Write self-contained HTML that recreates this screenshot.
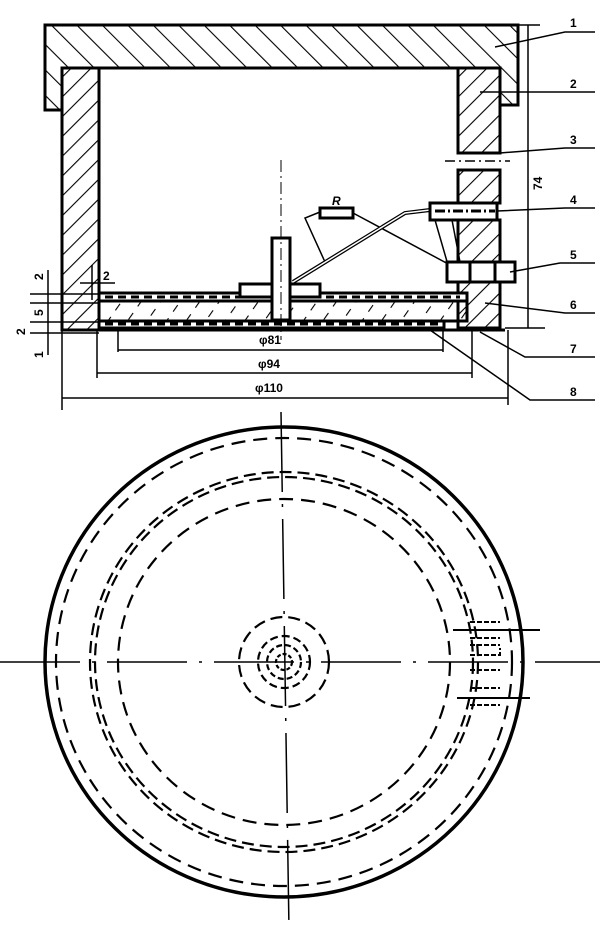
<!DOCTYPE html>
<html><head><meta charset="utf-8"><style>
html,body{margin:0;padding:0;background:#fff;width:600px;height:934px;overflow:hidden}
svg{display:block}
text{font-family:"Liberation Sans",sans-serif;font-weight:bold;fill:#000}
</style></head><body>
<svg width="600" height="934" viewBox="0 0 600 934" xmlns="http://www.w3.org/2000/svg">
<defs>
<pattern id="h1" patternUnits="userSpaceOnUse" width="18" height="18" patternTransform="rotate(-45)">
<line x1="0" y1="0" x2="0" y2="18" stroke="#000" stroke-width="2.2"/></pattern>
<pattern id="h2" patternUnits="userSpaceOnUse" width="14" height="14" patternTransform="rotate(45)">
<line x1="0" y1="0" x2="0" y2="14" stroke="#000" stroke-width="2.2"/></pattern>
<pattern id="h3" patternUnits="userSpaceOnUse" width="16" height="16" patternTransform="rotate(35)">
<line x1="0" y1="4" x2="0" y2="12" stroke="#000" stroke-width="2.2"/></pattern>
</defs>
<g stroke="#000" fill="none" stroke-width="3">
<path d="M45 25 H518 V105 H500 V68 H62 V110 H45 Z" fill="url(#h1)"/>
<rect x="62" y="68" width="37" height="262" fill="url(#h2)"/>
<rect x="458" y="68" width="42" height="85" fill="url(#h2)"/>
<rect x="458" y="170" width="42" height="33" fill="url(#h2)"/>
<rect x="458" y="220" width="42" height="108" fill="url(#h2)"/>
<rect x="99" y="293" width="368" height="8" fill="#fff"/>
<line x1="105" y1="297" x2="460" y2="297" stroke-dasharray="8 5" stroke-width="3"/>
<rect x="99" y="301" width="368" height="20" fill="url(#h3)"/>
<rect x="99" y="321" width="345" height="7" fill="#fff"/>
<line x1="105" y1="324" x2="440" y2="324" stroke-dasharray="8 5" stroke-width="3"/>
<line x1="62" y1="330" x2="505" y2="330"/>
<rect x="240" y="284" width="80" height="13" fill="#fff"/>
<rect x="272" y="238" width="18" height="82" fill="#fff"/>
<line x1="281" y1="160" x2="281" y2="340" stroke-width="1" stroke-dasharray="12 4 2 4"/>
<rect x="320" y="208" width="33" height="10" fill="#fff"/>
<polyline points="320,212 305,218 325,262" stroke-width="1.5"/>
<line x1="353" y1="213" x2="452" y2="266" stroke-width="1.5"/>
<polyline points="293,282 405,213 430,210" stroke-width="4"/>
<polyline points="293,282 405,213 430,210" stroke-width="1.5" stroke="#fff"/>
<rect x="430" y="203" width="67" height="17" fill="#fff"/>
<line x1="435" y1="211" x2="495" y2="211" stroke-dasharray="10 3 2 3"/>
<polyline points="435,220 448,265" stroke-width="1.5"/><polyline points="452,220 460,262" stroke-width="1.5"/>
<rect x="447" y="262" width="68" height="20" fill="#fff"/>
<line x1="470" y1="262" x2="470" y2="282"/><line x1="495" y1="262" x2="495" y2="282"/>
<line x1="445" y1="161" x2="510" y2="161" stroke-width="1.5" stroke-dasharray="10 4 2 4"/>
<line x1="500" y1="25" x2="540" y2="25" stroke-width="1.5"/>
<line x1="505" y1="328" x2="545" y2="328" stroke-width="1.5"/>
<line x1="528" y1="25" x2="528" y2="328" stroke-width="1.5"/>
<g stroke-width="1.5">
<polyline points="495,47 565,32 595,32"/>
<polyline points="480,92 595,92"/>
<polyline points="500,153 565,148 595,148"/>
<polyline points="497,211 565,208 595,208"/>
<polyline points="510,272 560,263 595,263"/>
<polyline points="485,303 565,313 595,313"/>
<polyline points="480,332 525,357 595,357"/>
<polyline points="430,330 530,400 595,400"/>
<line x1="118" y1="328" x2="118" y2="352"/><line x1="443" y1="328" x2="443" y2="352"/>
<line x1="118" y1="350" x2="443" y2="350"/>
<line x1="97" y1="330" x2="97" y2="378"/><line x1="472" y1="330" x2="472" y2="378"/>
<line x1="97" y1="373" x2="472" y2="373"/>
<line x1="62" y1="330" x2="62" y2="410"/><line x1="508" y1="330" x2="508" y2="405"/>
<line x1="62" y1="398" x2="508" y2="398"/>
<line x1="30" y1="294" x2="99" y2="294"/><line x1="30" y1="303" x2="99" y2="303"/>
<line x1="30" y1="322" x2="99" y2="322"/><line x1="30" y1="333" x2="99" y2="333"/>
<line x1="48" y1="270" x2="48" y2="355"/>
<line x1="92" y1="265" x2="92" y2="300"/><line x1="80" y1="283" x2="115" y2="283"/>
</g>
</g>
<g font-size="12">
<text x="570" y="27">1</text><text x="570" y="88">2</text><text x="570" y="144">3</text>
<text x="570" y="204">4</text><text x="570" y="259">5</text><text x="570" y="309">6</text>
<text x="570" y="353">7</text><text x="570" y="396">8</text>
<text x="259" y="344">φ81</text><text x="258" y="368">φ94</text><text x="255" y="392">φ110</text>
<text x="332" y="205" font-style="italic">R</text>
<text x="103" y="280">2</text>
<text transform="translate(43,316) rotate(-90)">5</text>
<text transform="translate(43,280) rotate(-90)">2</text>
<text transform="translate(25,335) rotate(-90)">2</text>
<text transform="translate(43,358) rotate(-90)">1</text>
<text transform="translate(542,190) rotate(-90)">74</text>
</g>
<g stroke="#000" fill="none">
<ellipse cx="284" cy="662" rx="239" ry="235" stroke-width="3.5"/>
<ellipse cx="284" cy="662" rx="228" ry="224" stroke-width="2.2" stroke-dasharray="14 8"/>
<ellipse cx="284" cy="662" rx="194" ry="190" stroke-width="2.2" stroke-dasharray="12 6"/>
<ellipse cx="284" cy="662" rx="189" ry="185" stroke-width="2.2" stroke-dasharray="12 6"/>
<ellipse cx="284" cy="662" rx="166" ry="163" stroke-width="2.2" stroke-dasharray="14 8"/>
<circle cx="284" cy="662" r="45" stroke-width="2.2" stroke-dasharray="12 6"/>
<circle cx="284" cy="662" r="26" stroke-width="2.2" stroke-dasharray="8 4"/>
<circle cx="284" cy="662" r="17" stroke-width="2.2" stroke-dasharray="6 3"/>
<circle cx="284" cy="662" r="8" stroke-width="2.2" stroke-dasharray="4 2"/>
<line x1="0" y1="662" x2="600" y2="662" stroke-width="1.5" stroke-dasharray="80 12 3 12"/>
<line x1="281" y1="412" x2="289" y2="930" stroke-width="1.5" stroke-dasharray="80 12 3 12"/>
<g stroke-width="2">
<line x1="453" y1="630" x2="540" y2="630"/><line x1="457" y1="698" x2="530" y2="698"/>
<path d="M470 622 h30 M470 638 h30 M470 645 h30 M470 655 h30 V648 M470 670 h30 M470 688 h30 M470 705 h30" stroke-dasharray="5 2"/>
</g>
</g>
</svg>
</body></html>
